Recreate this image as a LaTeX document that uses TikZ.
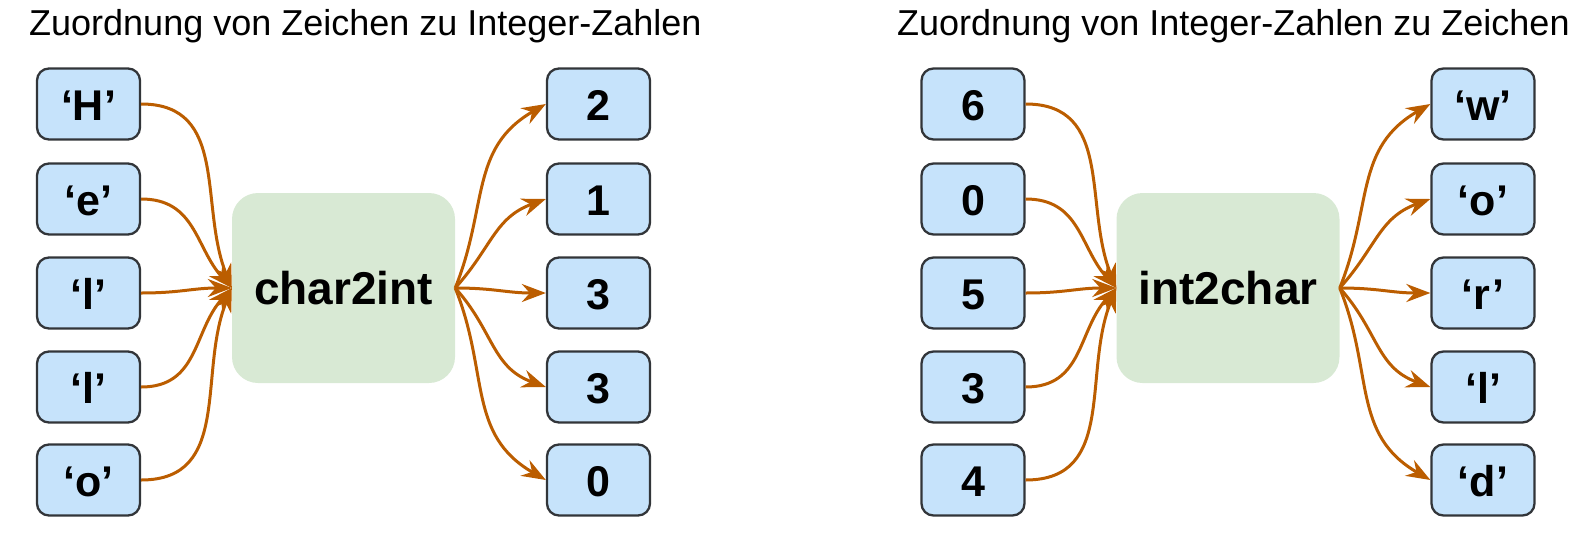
\documentclass[tikz,border=0pt]{standalone}
\usepackage{fontspec}
\setmainfont{Liberation Sans}
\usetikzlibrary{arrows.meta}
\definecolor{boxblue}{RGB}{198,227,251}
\definecolor{boxline}{RGB}{50,53,57}
\definecolor{fngreen}{RGB}{216,233,212}
\definecolor{arrcol}{RGB}{187,93,0}
\begin{document}
\begin{tikzpicture}[x=1pt,y=-1pt,
  valbox/.style={draw=boxline, line width=2.3pt, fill=boxblue, rounded corners=12pt,
    minimum width=103pt, minimum height=71pt, inner sep=0pt,
    font=\fontsize{43}{48}\selectfont\bfseries, text height=32pt, text depth=0pt},
  fnbox/.style={fill=fngreen, rounded corners=26pt, minimum width=223pt,
    minimum height=190pt, inner sep=0pt, font=\fontsize{46}{50}\selectfont\bfseries},
  titletext/.style={anchor=base west, inner sep=0pt, font=\fontsize{36}{40}\selectfont},
  flow/.style={draw=arrcol, line width=3pt, looseness=1.1,
    -{Stealth[length=24pt,width=18pt,inset=8pt]}}]

\useasboundingbox (0,0) rectangle (1594,538);

% titles
\node[titletext] (t1) at (29,35) {Zuordnung von Zeichen zu Integer-Zahlen};
\node[titletext] (t2) at (897,35) {Zuordnung von Integer-Zahlen zu Zeichen};

% left diagram
\node[valbox] (a1) at (88.5,104) {‘H’};
\node[valbox] (a2) at (88.5,199) {‘e’};
\node[valbox] (a3) at (88.5,293) {‘l’};
\node[valbox] (a4) at (88.5,387) {‘l’};
\node[valbox] (a5) at (88.5,480) {‘o’};
\node[fnbox] (f1) at (343.5,288) {char2int};
\node[valbox] (b1) at (598.5,104) {2};
\node[valbox] (b2) at (598.5,199) {1};
\node[valbox] (b3) at (598.5,293) {3};
\node[valbox] (b4) at (598.5,387) {3};
\node[valbox] (b5) at (598.5,480) {0};

\draw[flow] (a1.east) to[out=0,in=112] (f1.west);
\draw[flow] (a2.east) to[out=0,in=132] (f1.west);
\draw[flow] (a3.east) to[out=0,in=180] (f1.west);
\draw[flow] (a4.east) to[out=0,in=228] (f1.west);
\draw[flow] (a5.east) to[out=0,in=248] (f1.west);

\draw[flow] (f1.east) to[out=68,in=210] (b1.west);
\draw[flow] (f1.east) to[out=48,in=200] (b2.west);
\draw[flow] (f1.east) to[out=0,in=180] (b3.west);
\draw[flow] (f1.east) to[out=-48,in=160] (b4.west);
\draw[flow] (f1.east) to[out=-68,in=150] (b5.west);

% right diagram
\node[valbox] (c1) at (973,104) {6};
\node[valbox] (c2) at (973,199) {0};
\node[valbox] (c3) at (973,293) {5};
\node[valbox] (c4) at (973,387) {3};
\node[valbox] (c5) at (973,480) {4};
\node[fnbox] (f2) at (1228,288) {int2char};
\node[valbox] (d1) at (1483,104) {‘w’};
\node[valbox] (d2) at (1483,199) {‘o’};
\node[valbox] (d3) at (1483,293) {‘r’};
\node[valbox] (d4) at (1483,387) {‘l’};
\node[valbox] (d5) at (1483,480) {‘d’};

\draw[flow] (c1.east) to[out=0,in=112] (f2.west);
\draw[flow] (c2.east) to[out=0,in=132] (f2.west);
\draw[flow] (c3.east) to[out=0,in=180] (f2.west);
\draw[flow] (c4.east) to[out=0,in=228] (f2.west);
\draw[flow] (c5.east) to[out=0,in=248] (f2.west);

\draw[flow] (f2.east) to[out=68,in=210] (d1.west);
\draw[flow] (f2.east) to[out=48,in=200] (d2.west);
\draw[flow] (f2.east) to[out=0,in=180] (d3.west);
\draw[flow] (f2.east) to[out=-48,in=160] (d4.west);
\draw[flow] (f2.east) to[out=-68,in=150] (d5.west);
\end{tikzpicture}
\end{document}
